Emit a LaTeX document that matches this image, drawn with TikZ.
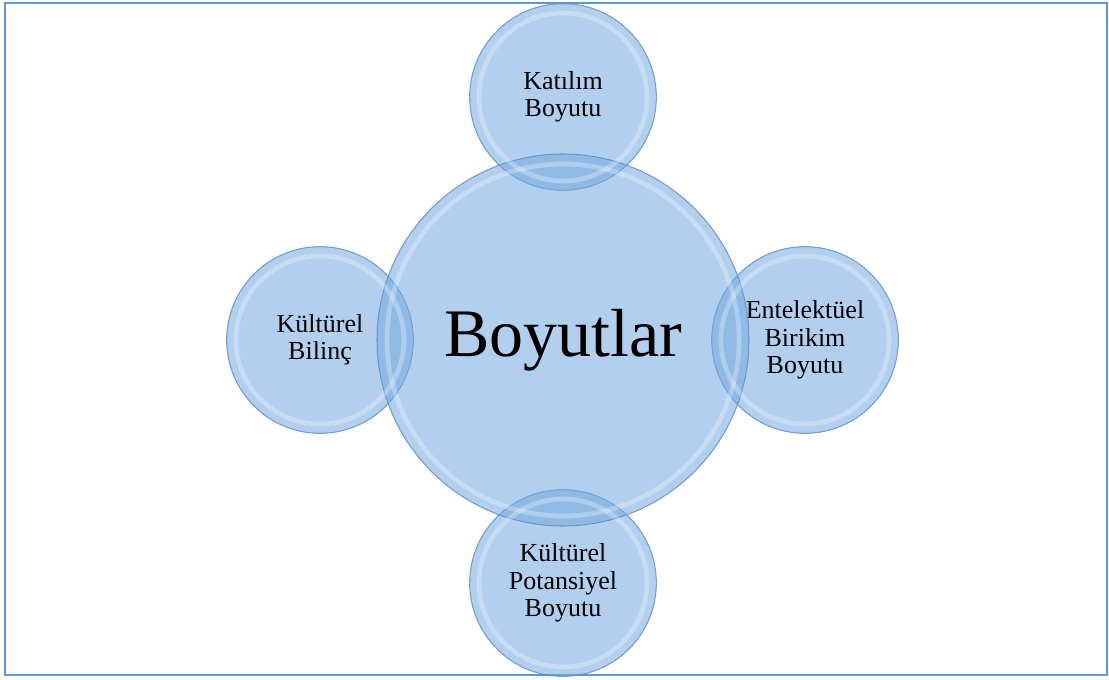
\documentclass[tikz,border=0pt]{standalone}
\usepackage{fontspec}
\setmainfont{Liberation Serif}
\definecolor{bubblefill}{RGB}{115,168,224}
\definecolor{bubbleline}{RGB}{96,140,196}
\definecolor{frameblue}{RGB}{91,155,213}
\tikzset{
  bubble/.style={circle,draw=bubbleline,line width=0.8pt,fill=bubblefill,
    fill opacity=0.55,draw opacity=0.8,text opacity=1,align=center,inner sep=0pt},
  small/.style={bubble,minimum size=140pt,font=\fontsize{19.5}{20.5}\selectfont},
  big/.style={bubble,minimum size=279pt,font=\fontsize{51}{55}\selectfont},
  shine/.style={white,line width=3.5pt,opacity=0.28}
}
\begin{document}
\begin{tikzpicture}[x=0.75pt,y=-0.75pt]
    \useasboundingbox (0,0) rectangle (1109,680);
    \node[draw=frameblue,line width=1.5pt,minimum width=1102*0.75pt,minimum height=672*0.75pt,inner sep=0pt] (frame) at (556,339){};

    \node[small] (top) at (563,97){Katılım\\Boyutu};
    \node[small] (left) at (320,340){Kültürel\\Bilinç};
    \node[small] (right) at (805,340){Entelektüel\\Birikim\\Boyutu};
    \node[small] (bottom) at (563,583){Kültürel\\Potansiyel\\Boyutu};
    \node[big] (mid) at (563,340){Boyutlar};

    % soft inner rings
    \foreach \n in {top,left,right,bottom}
        \draw[shine] (\n) circle (84);
    \draw[shine] (mid) circle (176);
\end{tikzpicture}
\end{document}
